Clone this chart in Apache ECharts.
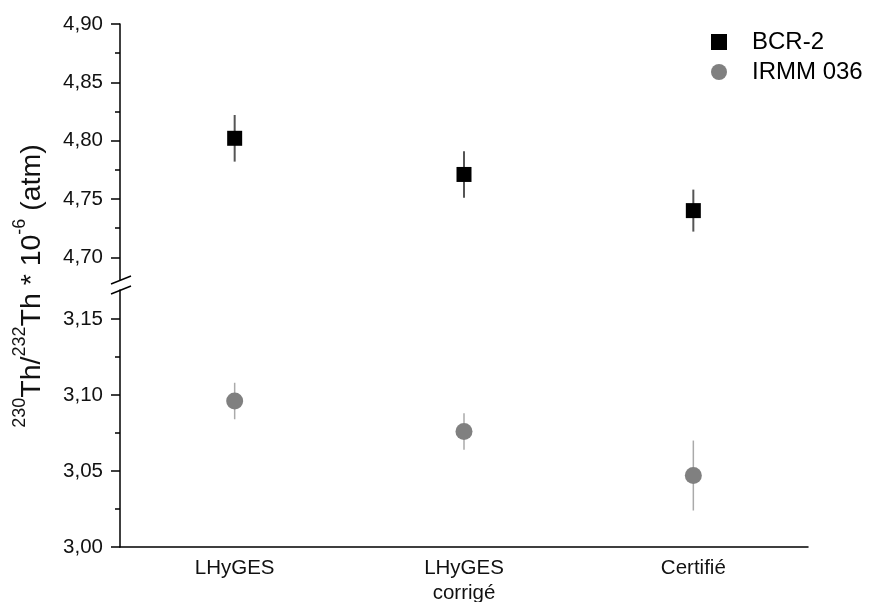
<!DOCTYPE html>
<html>
<head>
<meta charset="utf-8">
<script src="https://cdn.jsdelivr.net/npm/echarts@6/dist/echarts.min.js"></script>
<style>html,body{margin:0;padding:0;background:#fff}#c{width:875px;height:602px}</style>
</head>
<body>
<div id="c"></div>
<script>
const categories = ['LHyGES', 'LHyGES\ncorrigé', 'Certifié'];
const bcrValues = [4.802, 4.771, 4.740];
const bcrErrors = [0.020, 0.020, 0.018];
const irmmValues = [3.096, 3.076, 3.047];
const irmmErrors = [0.012, 0.012, 0.023];
const upperTicks = [4.70, 4.75, 4.80, 4.85, 4.90];
const upperMinorTicks = [4.725, 4.775, 4.825, 4.875];
const lowerTicks = [3.00, 3.05, 3.10, 3.15];
const lowerMinorTicks = [3.025, 3.075, 3.125];

const FONT = '"Liberation Sans", Arial, sans-serif';
const fmt = v => Number(v).toFixed(2).replace('.', ',');

function errRender(color, width) {
  return function (params, api) {
    const i = api.value(0);
    const lo = api.coord([i, api.value(1)]);
    const hi = api.coord([i, api.value(2)]);
    return { type: 'line', shape: { x1: lo[0], y1: lo[1], x2: hi[0], y2: hi[1] },
      style: { stroke: color, lineWidth: width } };
  };
}

const chart = echarts.init(document.getElementById('c'), null, { renderer: 'canvas' });
const axisLine = { show: true, lineStyle: { color: '#000', width: 1.5 } };
const tickLabel = { formatter: fmt, fontSize: 20.5, fontFamily: FONT, color: '#111', margin: 17 };

chart.setOption({
  animation: false,
  backgroundColor: '#fff',
  grid: [
    { left: 120, right: 67, top: 24, height: 256, outerBoundsMode: 'none', containLabel: false },
    { left: 120, right: 67, top: 290, bottom: 55, outerBoundsMode: 'none', containLabel: false }
  ],
  xAxis: [
    { type: 'category', gridIndex: 0, data: categories, axisLine: { show: false }, axisTick: { show: false }, axisLabel: { show: false } },
    { type: 'category', gridIndex: 1, data: categories, axisLine: axisLine, axisTick: { show: false },
      axisLabel: { fontSize: 20.5, fontFamily: FONT, color: '#111', margin: 9, lineHeight: 25 } }
  ],
  yAxis: [
    { type: 'value', gridIndex: 0, position: 'left', min: 4.6805, max: 4.90, axisLine: axisLine, splitLine: { show: false },
      axisTick: { show: true, length: 9, customValues: upperTicks, lineStyle: { color: '#000', width: 1.5 } },
      axisLabel: Object.assign({ customValues: upperTicks }, tickLabel) },
    { type: 'value', gridIndex: 1, position: 'left', min: 3.00, max: 3.169, axisLine: axisLine, splitLine: { show: false },
      axisTick: { show: true, length: 9, customValues: lowerTicks, lineStyle: { color: '#000', width: 1.5 } },
      axisLabel: Object.assign({ customValues: lowerTicks }, tickLabel) },
    { type: 'value', gridIndex: 0, position: 'left', offset: 0, min: 4.6805, max: 4.90, axisLine: { show: false }, splitLine: { show: false },
      axisTick: { show: true, length: 5, customValues: upperMinorTicks, lineStyle: { color: '#000', width: 1.5 } },
      axisLabel: { show: false } },
    { type: 'value', gridIndex: 1, position: 'left', offset: 0, min: 3.00, max: 3.169, axisLine: { show: false }, splitLine: { show: false },
      axisTick: { show: true, length: 5, customValues: lowerMinorTicks, lineStyle: { color: '#000', width: 1.5 } },
      axisLabel: { show: false } }
  ],
  legend: {
    orient: 'vertical', left: 706, top: 25, itemWidth: 16, itemHeight: 16, itemGap: 6,
    data: ['BCR-2', 'IRMM 036'],
    textStyle: { fontSize: 24, fontFamily: FONT, color: '#000', padding: [0, 0, 0, 20] }
  },
  series: [
    { type: 'custom', name: 'bcrErr', xAxisIndex: 0, yAxisIndex: 0, z: 1,
      renderItem: errRender('#555', 2),
      data: bcrValues.map((v, i) => [i, v - bcrErrors[i], v + bcrErrors[i]]) },
    { type: 'scatter', name: 'BCR-2', xAxisIndex: 0, yAxisIndex: 0, z: 2,
      symbol: 'rect', symbolSize: 15,
      itemStyle: { color: '#000', opacity: 1 },
      data: bcrValues.map((v, i) => [i, v]) },
    { type: 'custom', name: 'irmmErr', xAxisIndex: 1, yAxisIndex: 1, z: 1,
      renderItem: errRender('#aaa', 1.5),
      data: irmmValues.map((v, i) => [i, v - irmmErrors[i], v + irmmErrors[i]]) },
    { type: 'scatter', name: 'IRMM 036', xAxisIndex: 1, yAxisIndex: 1, z: 2,
      symbol: 'circle', symbolSize: 17,
      itemStyle: { color: '#808080', opacity: 1 },
      data: irmmValues.map((v, i) => [i, v]) }
  ],
  graphic: [
    { type: 'line', shape: { x1: 111, y1: 284, x2: 131, y2: 276 }, style: { stroke: '#000', lineWidth: 1.5 } },
    { type: 'line', shape: { x1: 111, y1: 294, x2: 131, y2: 286 }, style: { stroke: '#000', lineWidth: 1.5 } },
    { type: 'text', x: 29, y: 286, rotation: Math.PI / 2,
      style: {
        text: '{sup|230}{m|Th/}{sup|232}{m|Th * 10}{sup|-6}{m| (atm)}',
        align: 'center', verticalAlign: 'middle',
        rich: {
          m: { fontSize: 28.5, fontFamily: FONT, fill: '#111', lineHeight: 35, verticalAlign: 'bottom' },
          sup: { fontSize: 18, fontFamily: FONT, fill: '#111', lineHeight: 35, verticalAlign: 'top' }
        }
      } }
  ]
});
</script>
</body>
</html>
